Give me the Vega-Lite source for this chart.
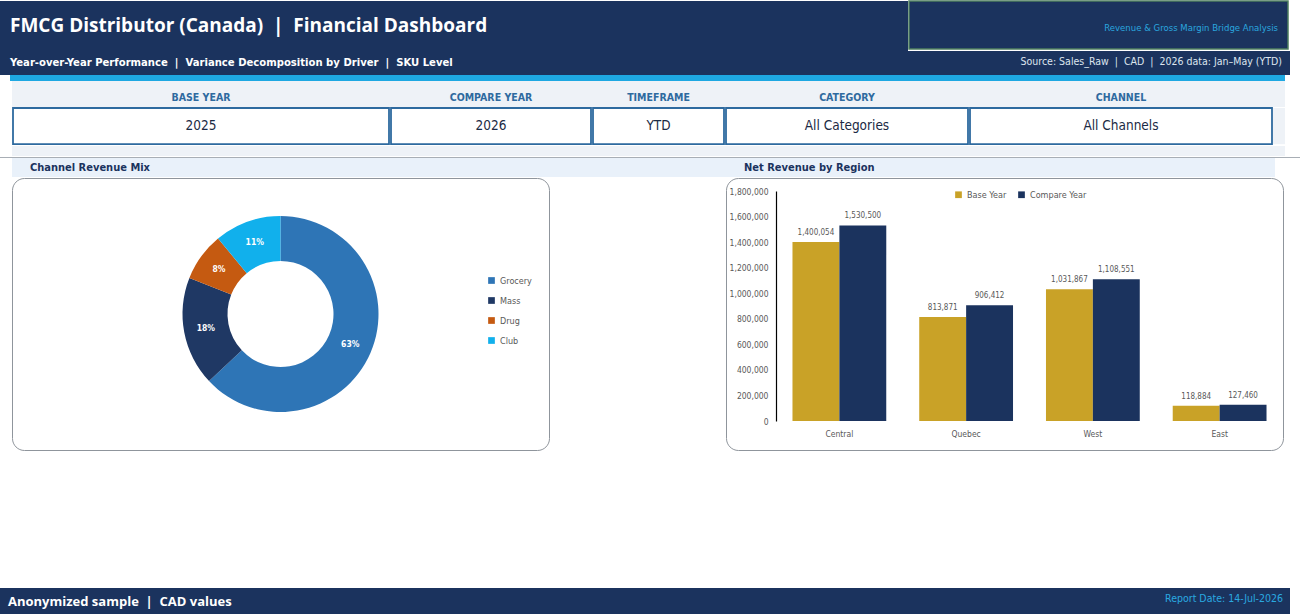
{
  "$schema": "https://vega.github.io/schema/vega-lite/v6.json",
  "description": "FMCG distributor financial dashboard: filter bar, channel revenue mix donut and net revenue by region bars.",
  "padding": 0,
  "background": "#ffffff",
  "spacing": 0,
  "resolve": {"scale": {"color": "independent"}, "legend": {"color": "independent"}},
  "config": {
    "view": {"stroke": null},
    "font": "DejaVu Sans Condensed, Liberation Sans, sans-serif",
    "text": {"font": "DejaVu Sans Condensed, Liberation Sans, sans-serif"},
    "axis": {"labelFont": "DejaVu Sans Condensed, Liberation Sans, sans-serif"},
    "legend": {"labelFont": "DejaVu Sans Condensed, Liberation Sans, sans-serif"},
    "title": {"font": "DejaVu Sans Condensed, Liberation Sans, sans-serif", "frame": "group", "orient": "bottom"}
  },
  "vconcat": [
    {
      "spacing": 0,
      "hconcat": [
        {"width": 908, "height": 50, "view": {"fill": "#1b335e"}, "data": {"values": []}, "mark": "text", "encoding": {},
         "title": {"text": "FMCG Distributor (Canada)\u00a0\u00a0|\u00a0\u00a0Financial Dashboard", "anchor": "start", "offset": -34, "dx": 10, "font": "Open Sans", "fontSize": 19, "fontWeight": "bold", "color": "#ffffff"}},
        {"width": 379, "height": 48, "view": {"fill": "#1b335e", "stroke": "#4d7f5f", "strokeWidth": 1.5}, "data": {"values": []}, "mark": "text", "encoding": {},
         "title": {"text": "Revenue & Gross Margin Bridge Analysis", "anchor": "end", "offset": -26, "dx": -10, "fontSize": 9.5, "fontWeight": "normal", "color": "#2aa6df"}},
        {"width": 12, "height": 48, "data": {"values": []}, "mark": "text", "encoding": {}}
      ]
    },
    {
      "spacing": 0,
      "hconcat": [
        {"width": 645, "height": 24, "view": {"fill": "#1b335e"}, "data": {"values": []}, "mark": "text", "encoding": {},
         "title": {"text": "Year-over-Year Performance\u00a0\u00a0|\u00a0\u00a0Variance Decomposition by Driver\u00a0\u00a0|\u00a0\u00a0SKU Level", "anchor": "start", "offset": -18, "dx": 10, "fontSize": 11.2, "fontWeight": "bold", "color": "#ffffff"}},
        {"width": 645, "height": 24, "view": {"fill": "#1b335e"}, "data": {"values": []}, "mark": "text", "encoding": {},
         "title": {"text": "Source: Sales_Raw\u00a0\u00a0|\u00a0\u00a0CAD\u00a0\u00a0|\u00a0\u00a02026 data: Jan–May (YTD)", "anchor": "end", "offset": -18, "dx": -8, "fontSize": 10.5, "fontWeight": "normal", "color": "#dde5ee"}},
        {"width": 10, "height": 24, "data": {"values": []}, "mark": "text", "encoding": {}}
      ]
    },
    {
      "spacing": 0,
      "hconcat": [
        {"width": 10, "height": 6, "data": {"values": []}, "mark": "text", "encoding": {}},
        {"width": 1275, "height": 6, "view": {"fill": "#1ea8e2"}, "data": {"values": []}, "mark": "text", "encoding": {}},
        {"width": 15, "height": 6, "data": {"values": []}, "mark": "text", "encoding": {}}
      ]
    },
    {
      "spacing": 0,
      "hconcat": [
        {"width": 12, "height": 26, "data": {"values": []}, "mark": "text", "encoding": {}},
        {"width": 378, "height": 26, "view": {"fill": "#eef2f7"}, "data": {"values": []}, "mark": "text", "encoding": {},
         "title": {"text": "BASE YEAR", "anchor": "middle", "offset": -14, "fontSize": 10.5, "fontWeight": "bold", "color": "#2e6a9f"}},
        {"width": 202, "height": 26, "view": {"fill": "#eef2f7"}, "data": {"values": []}, "mark": "text", "encoding": {},
         "title": {"text": "COMPARE YEAR", "anchor": "middle", "offset": -14, "fontSize": 10.5, "fontWeight": "bold", "color": "#2e6a9f"}},
        {"width": 133, "height": 26, "view": {"fill": "#eef2f7"}, "data": {"values": []}, "mark": "text", "encoding": {},
         "title": {"text": "TIMEFRAME", "anchor": "middle", "offset": -14, "fontSize": 10.5, "fontWeight": "bold", "color": "#2e6a9f"}},
        {"width": 244, "height": 26, "view": {"fill": "#eef2f7"}, "data": {"values": []}, "mark": "text", "encoding": {},
         "title": {"text": "CATEGORY", "anchor": "middle", "offset": -14, "fontSize": 10.5, "fontWeight": "bold", "color": "#2e6a9f"}},
        {"width": 304, "height": 26, "view": {"fill": "#eef2f7"}, "data": {"values": []}, "mark": "text", "encoding": {},
         "title": {"text": "CHANNEL", "anchor": "middle", "offset": -14, "fontSize": 10.5, "fontWeight": "bold", "color": "#2e6a9f"}},
        {"width": 12, "height": 26, "view": {"fill": "#eef2f7"}, "data": {"values": []}, "mark": "text", "encoding": {}},
        {"width": 15, "height": 26, "data": {"values": []}, "mark": "text", "encoding": {}}
      ]
    },
    {
      "spacing": 0,
      "hconcat": [
        {"width": 12, "height": 36.2, "data": {"values": []}, "mark": "text", "encoding": {}},
        {"width": 376, "height": 36.2, "view": {"fill": "#ffffff", "stroke": "#2e6a9f", "strokeWidth": 1.8},
         "data": {"values": [{"filter": "BASE YEAR", "setting": "2025"}]},
         "mark": {"type": "text", "fontSize": 13.5, "color": "#1b2a44"}, "encoding": {"text": {"field": "setting"}}},
        {"width": 200, "height": 36.2, "view": {"fill": "#ffffff", "stroke": "#2e6a9f", "strokeWidth": 1.8},
         "data": {"values": [{"filter": "COMPARE YEAR", "setting": "2026"}]},
         "mark": {"type": "text", "fontSize": 13.5, "color": "#1b2a44"}, "encoding": {"text": {"field": "setting"}}},
        {"width": 131, "height": 36.2, "view": {"fill": "#ffffff", "stroke": "#2e6a9f", "strokeWidth": 1.8},
         "data": {"values": [{"filter": "TIMEFRAME", "setting": "YTD"}]},
         "mark": {"type": "text", "fontSize": 13.5, "color": "#1b2a44"}, "encoding": {"text": {"field": "setting"}}},
        {"width": 242, "height": 36.2, "view": {"fill": "#ffffff", "stroke": "#2e6a9f", "strokeWidth": 1.8},
         "data": {"values": [{"filter": "CATEGORY", "setting": "All Categories"}]},
         "mark": {"type": "text", "fontSize": 13.5, "color": "#1b2a44"}, "encoding": {"text": {"field": "setting"}}},
        {"width": 302, "height": 36.2, "view": {"fill": "#ffffff", "stroke": "#2e6a9f", "strokeWidth": 1.8},
         "data": {"values": [{"filter": "CHANNEL", "setting": "All Channels"}]},
         "mark": {"type": "text", "fontSize": 13.5, "color": "#1b2a44"}, "encoding": {"text": {"field": "setting"}}},
        {"width": 12, "height": 36.2, "view": {"fill": "#eef2f7"}, "data": {"values": []}, "mark": "text", "encoding": {}},
        {"width": 15, "height": 36.2, "data": {"values": []}, "mark": "text", "encoding": {}}
      ]
    },
    {
      "spacing": 0,
      "hconcat": [
        {"width": 12, "height": 10, "data": {"values": []}, "mark": "text", "encoding": {}},
        {"width": 1273, "height": 10, "view": {"fill": "#eef2f7"}, "data": {"values": []}, "mark": "text", "encoding": {}},
        {"width": 15, "height": 10, "data": {"values": []}, "mark": "text", "encoding": {}}
      ]
    },
    {"width": 1300, "height": 1, "data": {"values": []}, "mark": "text", "encoding": {}},
    {"width": 1300, "height": 1, "view": {"fill": "#a8aeb5"}, "data": {"values": []}, "mark": "text", "encoding": {}},
    {
      "spacing": 0,
      "hconcat": [
        {"width": 12, "height": 19, "data": {"values": []}, "mark": "text", "encoding": {}},
        {"width": 713, "height": 19, "view": {"fill": "#e9f1fa"}, "data": {"values": []}, "mark": "text", "encoding": {},
         "title": {"text": "Channel Revenue Mix", "anchor": "start", "offset": -15, "dx": 18, "fontSize": 11, "fontWeight": "bold", "color": "#1b335e"}},
        {"width": 550, "height": 19, "view": {"fill": "#e9f1fa"}, "data": {"values": []}, "mark": "text", "encoding": {},
         "title": {"text": "Net Revenue by Region", "anchor": "start", "offset": -15, "dx": 19, "fontSize": 11, "fontWeight": "bold", "color": "#1b335e"}},
        {"width": 25, "height": 19, "data": {"values": []}, "mark": "text", "encoding": {}}
      ]
    },
    {
      "spacing": 0,
      "resolve": {"scale": {"color": "independent"}, "legend": {"color": "independent"}},
      "hconcat": [
        {"width": 11, "height": 272, "data": {"values": []}, "mark": "text", "encoding": {}},
        {
          "width": 537, "height": 272,
          "view": {"fill": "#ffffff", "stroke": "#8f959c", "strokeWidth": 1, "cornerRadius": 12},
          "data": {"values": [
            {"channel": "Grocery", "share": 0.63, "rank": 1},
            {"channel": "Mass", "share": 0.18, "rank": 2},
            {"channel": "Drug", "share": 0.08, "rank": 3},
            {"channel": "Club", "share": 0.11, "rank": 4}
          ]},
          "encoding": {
            "theta": {"field": "share", "type": "quantitative", "stack": true},
            "order": {"field": "rank", "type": "quantitative"}
          },
          "layer": [
            {
              "mark": {"type": "arc", "outerRadius": 98, "innerRadius": 53},
              "encoding": {
                "color": {
                  "field": "channel", "type": "nominal",
                  "scale": {"domain": ["Grocery", "Mass", "Drug", "Club"], "range": ["#2e75b6", "#1f3864", "#c55a11", "#11b0ec"]},
                  "legend": {"orient": "none", "legendX": 475, "legendY": 98, "title": null, "symbolType": "square", "symbolSize": 45, "symbolStrokeWidth": 0, "labelFontSize": 9, "labelColor": "#595959", "rowPadding": 10}
                }
              }
            },
            {
              "mark": {"type": "text", "radius": 76, "fill": "#ffffff", "fontSize": 8.5, "fontWeight": "bold"},
              "encoding": {"text": {"field": "share", "type": "quantitative", "format": ".0%"}}
            }
          ]
        },
        {"width": 175, "height": 272, "data": {"values": []}, "mark": "text", "encoding": {}},
        {
          "width": 557, "height": 272,
          "view": {"fill": "#ffffff", "stroke": "#8f959c", "strokeWidth": 1, "cornerRadius": 12},
          "data": {"values": [
            {"region": "Central", "series": "Base Year", "revenue": 1400054},
            {"region": "Central", "series": "Compare Year", "revenue": 1530500},
            {"region": "Quebec", "series": "Base Year", "revenue": 813871},
            {"region": "Quebec", "series": "Compare Year", "revenue": 906412},
            {"region": "West", "series": "Base Year", "revenue": 1031867},
            {"region": "West", "series": "Compare Year", "revenue": 1108551},
            {"region": "East", "series": "Base Year", "revenue": 118884},
            {"region": "East", "series": "Compare Year", "revenue": 127460}
          ]},
          "encoding": {
            "x": {
              "field": "region", "type": "nominal", "sort": ["Central", "Quebec", "West", "East"],
              "scale": {"range": [50, 557], "paddingInner": 0.26, "paddingOuter": 0.13},
              "axis": {"title": null, "orient": "bottom", "offset": -29, "domain": false, "ticks": false, "labelAngle": 0, "labelPadding": 8, "labelFontSize": 8.5, "labelColor": "#595959"}
            },
            "xOffset": {"field": "series", "type": "nominal", "sort": ["Base Year", "Compare Year"]},
            "y": {
              "field": "revenue", "type": "quantitative",
              "scale": {"domain": [0, 1800000], "range": [243, 13], "nice": false},
              "axis": {"title": null, "orient": "left", "offset": -50, "values": [0, 200000, 400000, 600000, 800000, 1000000, 1200000, 1400000, 1600000, 1800000], "format": ",.0f", "grid": false, "ticks": false, "domain": true, "domainColor": "#000000", "domainWidth": 1.2, "labelPadding": 8, "labelFontSize": 8.5, "labelColor": "#595959"}
            }
          },
          "layer": [
            {
              "mark": {"type": "bar"},
              "encoding": {
                "color": {
                  "field": "series", "type": "nominal",
                  "scale": {"domain": ["Base Year", "Compare Year"], "range": ["#c9a227", "#1b335e"]},
                  "legend": {"orient": "none", "legendX": 228, "legendY": 12, "direction": "horizontal", "title": null, "symbolType": "square", "symbolSize": 45, "symbolStrokeWidth": 0, "labelFontSize": 9, "labelColor": "#595959", "columnPadding": 10}
                }
              }
            },
            {
              "mark": {"type": "text", "baseline": "bottom", "dy": -5, "fontSize": 8, "color": "#595959"},
              "encoding": {"text": {"field": "revenue", "type": "quantitative", "format": ",.0f"}}
            }
          ]
        },
        {"width": 15, "height": 272, "data": {"values": []}, "mark": "text", "encoding": {}}
      ]
    },
    {"width": 1300, "height": 137, "data": {"values": []}, "mark": "text", "encoding": {}},
    {
      "spacing": 0,
      "hconcat": [
        {"width": 645, "height": 26, "view": {"fill": "#1b335e"}, "data": {"values": []}, "mark": "text", "encoding": {},
         "title": {"text": "Anonymized sample\u00a0\u00a0|\u00a0\u00a0CAD values", "anchor": "start", "offset": -18, "dx": 8, "font": "Open Sans", "fontSize": 13, "fontWeight": "bold", "color": "#ffffff"}},
        {"width": 645, "height": 26, "view": {"fill": "#1b335e"}, "data": {"values": []}, "mark": "text", "encoding": {},
         "title": {"text": "Report Date: 14-Jul-2026", "anchor": "end", "offset": -20, "dx": -7, "fontSize": 10.5, "fontWeight": "normal", "color": "#2aa9e0"}},
        {"width": 10, "height": 26, "data": {"values": []}, "mark": "text", "encoding": {}}
      ]
    }
  ]
}
